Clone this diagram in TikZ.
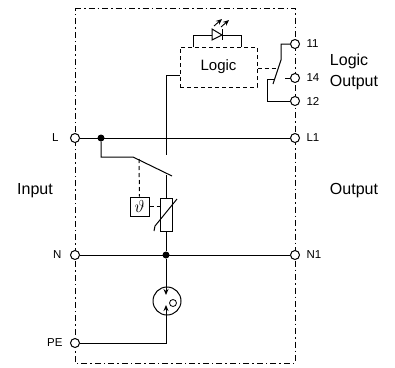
\documentclass[tikz,border=0pt]{standalone}
\usepackage{fontspec}
\setmainfont{Liberation Sans}
\usetikzlibrary{arrows.meta, positioning}
\tikzset{
    terminal/.style={circle, draw=black, line width=1pt, fill=white, inner sep=0pt, minimum size=9pt},
    junction/.style={circle, fill=black, inner sep=0pt, minimum size=7pt},
    wire/.style={draw=black, line width=1pt},
    linkage/.style={draw=black, line width=1pt, dash pattern=on 4pt off 3pt},
    housing/.style={draw=black, line width=1pt, dash pattern=on 6pt off 3pt on 1.5pt off 3pt},
    logicblock/.style={rectangle, draw=black, line width=1pt, dash pattern=on 4pt off 3pt,
        minimum width=77pt, minimum height=40pt, font=\fontsize{15}{17}\selectfont},
    pinlabel/.style={font=\fontsize{11.5}{13}\selectfont},
    sidelabel/.style={font=\fontsize{16}{20.5}\selectfont, align=left}
}
\begin{document}
\begin{tikzpicture}[x=1pt, y=-1pt]
    \useasboundingbox (0,0) rectangle (395,367);

    % Housing
    \draw[housing] (75,8) -- (295,8) -- (295,363) -- (75,363) -- cycle;

    % Terminals
    \node[terminal] (L) at (75,138) {};
    \node[terminal] (N) at (75,255) {};
    \node[terminal] (PE) at (75,343) {};
    \node[terminal] (L1) at (295,138) {};
    \node[terminal] (N1) at (295,255) {};
    \node[terminal] (T11) at (295,44) {};
    \node[terminal] (T14) at (295,78) {};
    \node[terminal] (T12) at (295,101) {};

    % Labels
    \node[pinlabel, left=8pt of L] (labelL) {L};
    \node[pinlabel, left=5pt of N] (labelN) {N};
    \node[pinlabel, left=4pt of PE] (labelPE) {PE};
    \node[pinlabel, right=3pt of L1] (labelLone) {L1};
    \node[pinlabel, right=3pt of N1] (labelNone) {N1};
    \node[pinlabel, right=3pt of T11] (labelA) {11};
    \node[pinlabel, right=3pt of T14] (labelB) {14};
    \node[pinlabel, right=3pt of T12] (labelC) {12};
    \node[sidelabel] (input) at (35,191) {Input};
    \node[sidelabel] (output) at (354,191) {Output};
    \node[sidelabel] (logicout) at (354,72) {Logic\\Output};

    % Junctions
    \node[junction] (jL) at (101,138) {};
    \node[junction] (jN) at (166,255) {};
    \draw[wire] (L) -- (L1);
    \draw[wire] (N) -- (N1);

    % Logic block and LED
    \node[logicblock] (logic) at (218.5,67) {Logic};
    \coordinate (ledleft) at (193.5,47);
    \coordinate (ledright) at (241,47);
    \draw[wire] (ledleft) -- (193.5,35) -- (212,35);
    \draw[wire] (222,35) -- (241,35) -- (ledright);
    \draw[wire] (212,29) -- (222,35) -- (212,40) -- cycle;
    \draw[wire] (222,29) -- (222,40);
    \draw[line width=0.9pt, -{Stealth[length=6pt, width=5pt]}] (214,26) -- (222,19);
    \draw[line width=0.9pt, -{Stealth[length=6pt, width=5pt]}] (221,27) -- (229,20);

    % Line from logic
    \coordinate (crossend) at (166,155);
    \draw[wire] (logic.west |- 0,75) -- (166,75) -- (crossend);

    % Relay contact
    \coordinate (relaytop) at (281,60);
    \coordinate (relayend) at (273,84);
    \draw[wire] (T11) -- (281,44) -- (relaytop) -- (relayend);
    \draw[wire] (T14) -- (285,78);
    \draw[wire] (T12) -- (267,101) -- (267,79) -- (275,79);
    \draw[linkage] (logic.east |- 0,68) -- (278,68);

    % Thermal disconnect
    \coordinate (switchpivot) at (133,157);
    \coordinate (switchend) at (172,176);
    \draw[wire] (jL) -- (101,157) -- (switchpivot) -- (switchend);
    \node[rectangle, draw=black, line width=1pt, minimum size=19pt, inner sep=0pt,
        font=\fontsize{18}{20}\selectfont] (theta) at (139.5,206.5) {$\vartheta$};
    \draw[linkage] (139,159) -- (theta.north);

    % Varistor
    \node[rectangle, draw=black, line width=1pt, minimum width=11.5pt, minimum height=33pt,
        inner sep=0pt] (varistor) at (166.5,214.5) {};
    \draw[wire] (166,175) -- (varistor.north -| 166,0);
    \draw[wire] (varistor.south -| 166,0) -- (jN);
    \draw[linkage] (theta.east) -- (varistor.west |- theta.east);
    \draw[wire] (177,199) -- (155,226) -- (154,231);

    % Gas discharge tube
    \node[circle, draw=black, line width=1pt, minimum size=28pt, inner sep=0pt] (tube) at (167,301) {};
    \node[circle, draw=black, line width=0.8pt, minimum size=7pt, inner sep=0pt] (tubedot) at (173,303) {};
    \draw[wire, -{Stealth[length=6pt, width=5pt]}] (jN) -- (166,295);
    \draw[wire, -{Stealth[length=6pt, width=5pt]}] (PE) -- (166,343) -- (166,305);
\end{tikzpicture}
\end{document}
